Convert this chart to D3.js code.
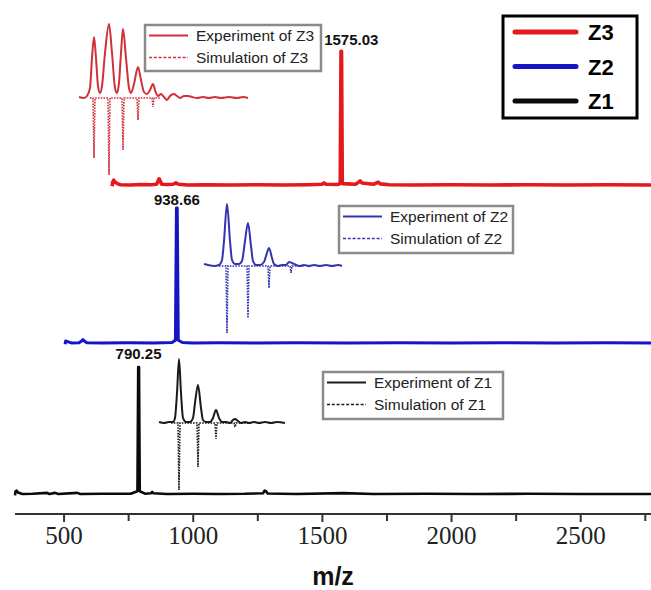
<!DOCTYPE html>
<html>
<head>
<meta charset="utf-8">
<script src="https://cdn.jsdelivr.net/npm/d3@7"></script>
<style>
  body { margin: 0; background: #fff; }
  svg { display: block; }
</style>
</head>
<body>
<div id="chart"></div>
<script>
// full spectra, [m/z, relative intensity]
const z3Spectrum = [[688,0],[690,3],[694,4.5],[700,3],[708,2],[720,1.2],[760,1],[800,1.3],[840,1.2],[860,1.5],[866,4],[870,5.5],[874,4],[880,1.5],[900,1.3],[925,1.5],[935,2.5],[945,1.5],[980,1],[1050,1.2],[1150,1],[1250,1.1],[1350,1],[1450,1.2],[1500,1.5],[1508,2.5],[1516,1.5],[1560,1.3],[1571,2],[1574,100],[1576,100],[1579,2],[1600,1.8],[1630,1.5],[1642,3],[1648,4],[1655,2.5],[1700,1.5],[1712,2.5],[1718,3],[1726,1.8],[1760,1.2],[1850,1],[2000,1.1],[2150,1],[2300,1.1],[2450,1],[2600,1.1],[2774,1]]
const z2Spectrum = [[506,0],[508,2.5],[515,2],[530,1],[560,1.2],[570,2.5],[575,3.5],[580,2.5],[590,1.2],[650,1],[750,1.1],[850,1],[920,1.3],[933,3],[937,101],[940,101],[944,3],[960,1.3],[1000,1],[1100,1.1],[1250,1],[1400,1.1],[1600,1],[1800,1.1],[2000,1],[2200,1.1],[2400,1],[2600,1.1],[2774,1]]
const z1Spectrum = [[312,0],[314,3],[318,3.5],[324,2],[340,1],[380,1.2],[436,1.8],[445,1],[467,1.8],[480,1],[553,1.8],[565,1],[650,1.1],[760,1.2],[786,3],[789,95],[792,95],[795,3],[815,1.2],[838,1.5],[843,2.5],[848,1.5],[900,1],[1000,1.1],[1100,1],[1200,1.1],[1272,1.5],[1278,3.5],[1284,3],[1290,1.3],[1400,1],[1583,1.6],[1700,1],[1900,1.1],[2100,1],[2300,1.1],[2500,1],[2774,1]]

// labelled main peaks
const peakLabels = ['1575.03', '938.66', '790.25']
const peakMz = [1575.03, 938.66, 790.25]
const peakIntensity = [100, 101, 95]

// isotope pattern insets, [offset, intensity], simulation drawn downward
const z3Exp = [[0,1],[5,0],[8,2],[11,10],[13,40],[15,61],[17,40],[19,12],[21,5],[23,12],[26,45],[30,74],[33,45],[36,10],[38,5],[40,15],[42,45],[44,69],[47,40],[50,10],[52,5],[55,14],[59,31],[62,18],[65,6],[68,4],[71,8],[74,14],[76,8],[79,2],[82,4],[85,1],[88,-2],[91,2],[95,4],[98,2],[101,0],[105,2],[109,2],[113,1],[118,0],[124,1],[130,0],[136,1],[142,0],[150,1],[158,0],[164,1],[169,0]]
const z3Sim = [[11,0],[14,0],[15,-60],[16,0],[29,0],[30,-77],[31,0],[43,0],[44,-52],[45,0],[58,0],[59,-22],[60,0],[73,0],[74,-9],[75,0],[81,0]]
const z2Exp = [[0,2],[4,1],[10,0],[15,1],[18,6],[20,25],[23,62],[26,25],[28,6],[31,2],[35,2],[38,5],[41,25],[44,43],[47,20],[49,5],[52,1],[56,1],[60,4],[62,10],[65,18],[68,8],[70,2],[74,0],[78,1],[82,1],[85,4],[88,3],[92,1],[96,0],[100,1],[105,0],[110,1],[116,0],[122,1],[128,0],[134,1],[138,0]]
const z2Sim = [[15,0],[22,0],[23,-67],[24,0],[43,0],[44,-52],[45,0],[64,0],[65,-22],[66,0],[86,0],[87,-7],[88,0],[100,0]]
const z1Exp = [[0,1],[5,0],[10,1],[14,1],[16,5],[18,30],[20,64],[22,30],[24,5],[27,1],[31,1],[34,5],[36,20],[39,38],[42,15],[44,3],[47,1],[51,1],[54,5],[57,13],[60,5],[63,1],[67,1],[71,0],[74,3],[76,4],[79,2],[82,0],[86,1],[90,0],[95,1],[100,0],[106,1],[112,0],[118,1],[126,0]]
const z1Sim = [[12,0],[19,0],[20,-67],[21,0],[38,0],[39,-44],[40,0],[56,0],[57,-16],[58,0],[75,0],[76,-4],[77,0],[90,0]]

const seriesNames = ['Z3', 'Z2', 'Z1']
const majorTicks = [500, 1000, 1500, 2000, 2500]
const minorTicks = [750, 1250, 1750, 2250, 2750]

const width = 651, height = 590
const colors = ['#e3191b', '#1515c4', '#0a0a0a']
const insetColors = ['#d0303a', '#3434b0', '#1a1a1a']

const svg = d3.select('#chart').append('svg')
    .attr('width', width)
    .attr('height', height)
    .style('font-family', '"Liberation Sans", Arial, sans-serif')

const x = d3.scaleLinear().domain([312, 2774]).range([15, 651])

// one panel per compound
const panels = [
    {data: z3Spectrum, base: 185, stroke: 3.6, labelDx: 10, labelDy: -6},
    {data: z2Spectrum, base: 343, stroke: 3, labelDx: 0, labelDy: -3},
    {data: z1Spectrum, base: 494, stroke: 2.6, labelDx: 0, labelDy: -8}
]

panels.forEach((p, i) => {
    const y = d3.scaleLinear().domain([0, 100]).range([p.base + 1.3, p.base + 1.3 - 135])
    const line = d3.line().x(d => x(d[0])).y(d => y(d[1]))
    svg.append('path')
        .datum(p.data)
        .attr('d', line)
        .attr('fill', 'none')
        .attr('stroke', colors[i])
        .attr('stroke-width', p.stroke)
        .attr('stroke-linejoin', 'round')
    svg.append('text')
        .attr('x', x(peakMz[i]) + p.labelDx)
        .attr('y', y(peakIntensity[i]) + p.labelDy)
        .attr('text-anchor', 'middle')
        .style('font-size', '15px')
        .style('font-weight', 'bold')
        .attr('fill', '#111')
        .text(peakLabels[i])
})

// insets
const insets = [
    {exp: z3Exp, sim: z3Sim, xd: [0, 169], xr: [79, 248], base: 98,
        box: [145, 25, 176, 46]},
    {exp: z2Exp, sim: z2Sim, xd: [0, 138], xr: [204, 342], base: 266,
        box: [339, 206, 174, 47]},
    {exp: z1Exp, sim: z1Sim, xd: [0, 126], xr: [159, 285], base: 423,
        box: [323, 372, 180, 47]}
]

insets.forEach((ins, i) => {
    const ix = d3.scaleLinear().domain(ins.xd).range(ins.xr)
    const iy = d3.scaleLinear().domain([0, 100]).range([ins.base, ins.base - 100])
    svg.append('path')
        .datum(ins.sim)
        .attr('d', d3.line().x(d => ix(d[0])).y(d => iy(d[1])))
        .attr('fill', 'none')
        .attr('stroke', insetColors[i])
        .attr('stroke-width', 1.6)
        .attr('stroke-dasharray', '1.6,1.2')
    svg.append('path')
        .datum(ins.exp)
        .attr('d', d3.line().curve(d3.curveMonotoneX).x(d => ix(d[0])).y(d => iy(d[1])))
        .attr('fill', 'none')
        .attr('stroke', insetColors[i])
        .attr('stroke-width', 2)

    const [bx, by, bw, bh] = ins.box
    const g = svg.append('g')
    g.append('rect')
        .attr('x', bx).attr('y', by).attr('width', bw).attr('height', bh)
        .attr('fill', '#fff')
        .attr('stroke', '#8a8a8a')
        .attr('stroke-width', 2.5)
    const rows = [
        {label: 'Experiment of ' + seriesNames[i], dash: null, dy: 10.5},
        {label: 'Simulation of ' + seriesNames[i], dash: '3,1.8', dy: 32.5}
    ]
    rows.forEach(r => {
        g.append('line')
            .attr('x1', bx + 4).attr('x2', bx + 43)
            .attr('y1', by + r.dy).attr('y2', by + r.dy)
            .attr('stroke', insetColors[i])
            .attr('stroke-width', r.dash ? 1.6 : 2)
            .attr('stroke-dasharray', r.dash)
        g.append('text')
            .attr('x', bx + 51)
            .attr('y', by + r.dy + 5.5)
            .style('font-size', '15.5px')
            .attr('fill', '#222')
            .text(r.label)
    })
})

// main legend
const lg = svg.append('g')
lg.append('rect')
    .attr('x', 503).attr('y', 16).attr('width', 134).attr('height', 102)
    .attr('fill', '#fff')
    .attr('stroke', '#000')
    .attr('stroke-width', 3)
seriesNames.forEach((name, i) => {
    const ly = 32 + i * 34.5
    lg.append('line')
        .attr('x1', 515).attr('x2', 576)
        .attr('y1', ly).attr('y2', ly)
        .attr('stroke', colors[i])
        .attr('stroke-width', 5)
        .attr('stroke-linecap', 'round')
    lg.append('text')
        .attr('x', 588)
        .attr('y', ly + 8)
        .style('font-size', '22px')
        .style('font-weight', 'bold')
        .attr('fill', '#000')
        .text(name)
})

// x axis
const axisY = 514
svg.append('line')
    .attr('x1', 15).attr('x2', 651)
    .attr('y1', axisY).attr('y2', axisY)
    .attr('stroke', '#333')
    .attr('stroke-width', 2)

const axis = svg.append('g')
    .attr('transform', `translate(0,${axisY})`)
    .call(d3.axisBottom(x).tickValues(majorTicks).tickSize(8).tickPadding(4).tickFormat(d3.format('d')))
axis.select('.domain').remove()
axis.selectAll('line').attr('stroke', '#333').attr('stroke-width', 2)
axis.selectAll('text')
    .style('font-family', '"Liberation Serif", "Times New Roman", serif')
    .style('font-size', '25px')
    .attr('fill', '#222')

const minor = svg.append('g')
    .attr('transform', `translate(0,${axisY})`)
    .call(d3.axisBottom(x).tickValues(minorTicks).tickSize(7).tickFormat(''))
minor.select('.domain').remove()
minor.selectAll('line').attr('stroke', '#333').attr('stroke-width', 2)

svg.append('text')
    .attr('x', 333)
    .attr('y', 585)
    .attr('text-anchor', 'middle')
    .style('font-size', '25px')
    .style('font-weight', 'bold')
    .attr('fill', '#111')
    .text('m/z')
</script>
</body>
</html>
